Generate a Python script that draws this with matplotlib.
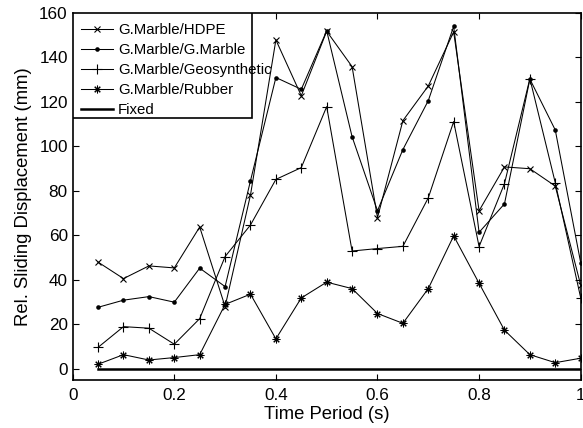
import numpy as np
import matplotlib
matplotlib.use("Agg")
import matplotlib.pyplot as plt
from matplotlib.patches import Rectangle

plt.rcParams['font.family'] = ['Liberation Sans', 'DejaVu Sans']

period = [0.05, 0.10, 0.15, 0.20, 0.25, 0.30, 0.35, 0.40, 0.45, 0.50,
          0.55, 0.60, 0.65, 0.70, 0.75, 0.80, 0.85, 0.90, 0.95, 1.00]

hdpe = [48.0, 40.6, 46.3, 45.4, 63.8, 28.0, 78.2, 147.9, 122.8, 151.8,
        135.9, 68.0, 111.6, 127.2, 151.5, 71.1, 90.8, 90.0, 82.2, 37.7]
marble = [27.7, 30.9, 32.5, 30.0, 45.3, 37.0, 84.6, 131.0, 125.7, 152.0,
          104.4, 71.1, 98.6, 120.6, 154.0, 61.4, 74.2, 130.3, 107.4, 47.8]
geosyn = [9.7, 19.0, 18.3, 11.1, 22.6, 50.5, 64.7, 85.2, 90.5, 117.9,
          53.0, 54.1, 55.1, 76.9, 111.2, 55.0, 83.3, 130.5, 83.7, 32.0]
rubber = [2.1, 6.4, 4.0, 5.1, 6.4, 29.0, 33.6, 13.5, 31.9, 39.0,
          36.1, 24.9, 20.5, 36.1, 59.8, 38.5, 17.4, 6.4, 2.8, 4.8]
fixed = [0.0] * len(period)

labels = ['G.Marble/HDPE', 'G.Marble/G.Marble', 'G.Marble/Geosynthetic',
          'G.Marble/Rubber', 'Fixed']

fig = plt.figure(figsize=(5.83, 4.28), dpi=100)
ax = fig.add_axes([0.1247, 0.1121, 0.8713, 0.8575])

lw = 0.75
ax.plot(period, hdpe, color='black', lw=lw, marker='x', ms=3.8, mew=0.8, label=labels[0])
ax.plot(period, marble, color='black', lw=lw, marker='o', ms=3.3, mew=0, label=labels[1])
ax.plot(period, geosyn, color='black', lw=lw, marker='+', ms=7.5, mew=0.8, label=labels[2])
ax.plot(period, rubber, color='black', lw=lw, marker=(8, 2, 0), ms=5.5, mew=0.75,
        label=labels[3])
ax.plot(period, fixed, color='black', lw=1.8, label=labels[4])

ax.set_xlim(0, 1)
ax.set_ylim(-5, 160)
ax.set_xticks([0, 0.2, 0.4, 0.6, 0.8, 1.0])
ax.set_xticklabels(['0', '0.2', '0.4', '0.6', '0.8', '1'])
ax.set_yticks(np.arange(0, 161, 20))
ax.tick_params(direction='in', top=True, right=True, labelsize=12.3, length=4,
               width=0.8)
ax.tick_params(axis='x', pad=5.5)
for s in ax.spines.values():
    s.set_linewidth(1.2)

ax.set_xlabel('Time Period (s)', fontsize=13.3, labelpad=2.5)
ax.set_ylabel('Rel. Sliding Displacement (mm)', fontsize=13.3, labelpad=5)

leg = ax.legend(loc='upper left', bbox_to_anchor=(-0.008, 1.006), fontsize=10.8,
                frameon=False, handlelength=2.15, handletextpad=0.35,
                labelspacing=0.4, borderpad=0.3)

# legend box drawn narrower than the longest entry
box = Rectangle((0, 0.713), 0.353, 0.287, transform=ax.transAxes,
                facecolor='white', edgecolor='black', lw=1.2, zorder=4.5)
ax.add_patch(box)
leg.set_zorder(5)

fig.savefig('out.png', dpi=100)
